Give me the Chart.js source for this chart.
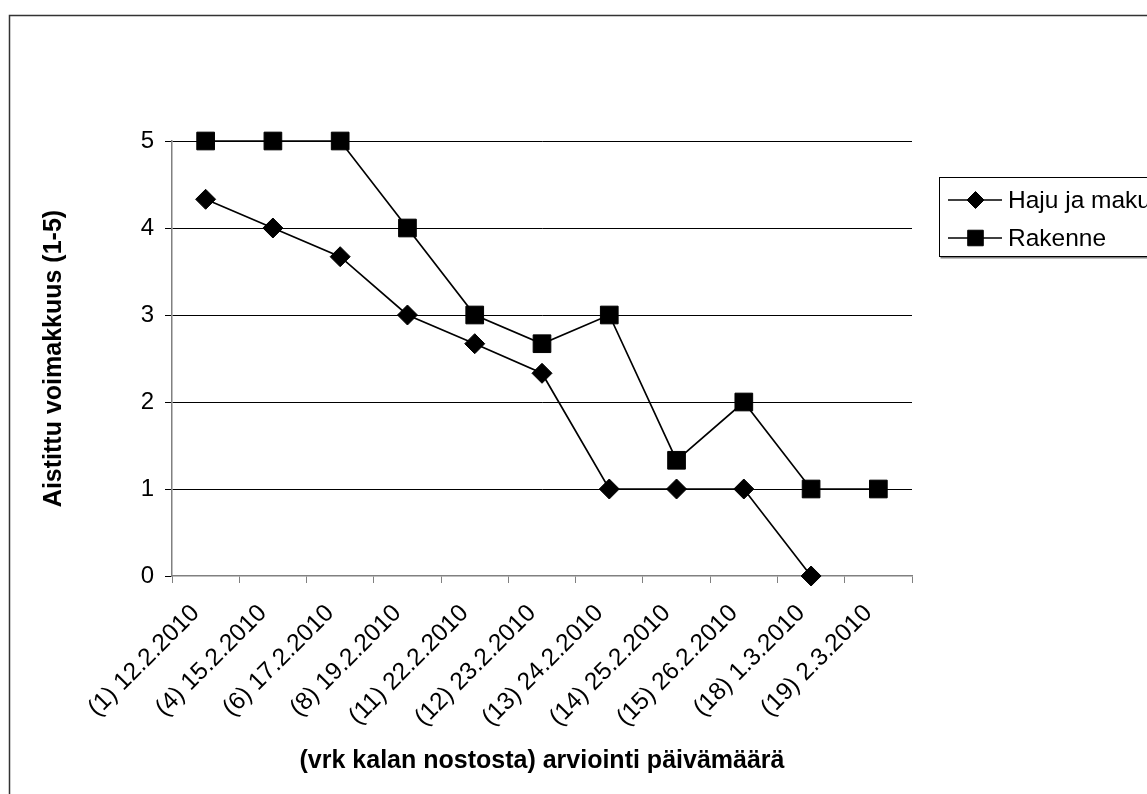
<!DOCTYPE html>
<html>
<head>
<meta charset="utf-8">
<script src="https://cdn.jsdelivr.net/npm/chart.js@4.4.1/dist/chart.umd.min.js"></script>
<style>
  html, body { margin: 0; padding: 0; background: #fff; }
  #wrap { width: 1147px; height: 794px; }
</style>
</head>
<body>
<div id="wrap"><canvas id="c" width="1147" height="794"></canvas></div>
<script>
// Arviointipäivät (vrk kalan nostosta)
const categories = [
  '(1) 12.2.2010', '(4) 15.2.2010', '(6) 17.2.2010', '(8) 19.2.2010',
  '(11) 22.2.2010', '(12) 23.2.2010', '(13) 24.2.2010', '(14) 25.2.2010',
  '(15) 26.2.2010', '(18) 1.3.2010', '(19) 2.3.2010'
];
// Aistittu voimakkuus (1-5)
const hajuJaMaku = [4.33, 4, 3.67, 3, 2.67, 2.33, 1, 1, 1, 0, null];
const rakenne    = [5, 5, 5, 4, 3, 2.67, 3, 1.33, 2, 1, 1];
const yTicks = [0, 1, 2, 3, 4, 5];

const FONT = '"Liberation Sans", Arial, sans-serif';

// Outer frame of the chart object
const framePlugin = {
  id: 'frame',
  beforeDraw(chart) {
    const ctx = chart.ctx;
    ctx.save();
    ctx.strokeStyle = '#333';
    ctx.lineWidth = 1.5;
    ctx.beginPath();
    ctx.moveTo(9.5, 800);
    ctx.lineTo(9.5, 15.5);
    ctx.lineTo(1160, 15.5);
    ctx.stroke();
    ctx.restore();
  }
};

// Legend box: line segment with marker, then series name
const legendPlugin = {
  id: 'boxLegend',
  afterDraw(chart) {
    const ctx = chart.ctx;
    const x0 = 939.5, y0 = 177.5, h = 79;
    ctx.save();
    // shadow
    ctx.fillStyle = '#808080';
    ctx.fillRect(x0 + 1, y0 + h, 400, 2);
    ctx.fillStyle = '#fff';
    ctx.fillRect(x0, y0, 400, h);
    ctx.strokeStyle = '#000';
    ctx.lineWidth = 1;
    ctx.strokeRect(x0, y0, 400, h);
    const rows = [200, 238];
    chart.data.datasets.forEach((ds, i) => {
      const y = rows[i];
      ctx.strokeStyle = '#000';
      ctx.fillStyle = '#000';
      ctx.lineWidth = 1.5;
      ctx.beginPath();
      ctx.moveTo(948, y);
      ctx.lineTo(1002, y);
      ctx.stroke();
      ctx.lineWidth = 1;
      Chart.helpers.drawPoint(ctx, {
        pointStyle: ds.pointStyle,
        radius: ds.pointStyle === 'rect' ? 11 : 8.5,
        borderWidth: 1
      }, 975.5, y);
      ctx.fillStyle = '#000';
      ctx.font = '24.5px ' + FONT;
      ctx.textBaseline = 'middle';
      ctx.textAlign = 'left';
      ctx.fillText(ds.label, 1008, y + 1);
    });
    ctx.restore();
  }
};

new Chart(document.getElementById('c'), {
  type: 'line',
  data: {
    labels: categories,
    datasets: [
      {
        label: 'Haju ja maku',
        data: hajuJaMaku,
        borderColor: '#000',
        backgroundColor: '#000',
        borderWidth: 1.7,
        pointStyle: 'rectRot',
        pointRadius: 10,
        pointBorderWidth: 1,
        pointBackgroundColor: '#000',
        pointBorderColor: '#000',
        tension: 0,
        spanGaps: false,
        clip: false
      },
      {
        label: 'Rakenne',
        data: rakenne,
        borderColor: '#000',
        backgroundColor: '#000',
        borderWidth: 1.7,
        pointStyle: 'rect',
        pointRadius: 12.5,
        pointBorderWidth: 1,
        pointBackgroundColor: '#000',
        pointBorderColor: '#000',
        tension: 0,
        clip: false
      }
    ]
  },
  options: {
    responsive: false,
    animation: false,
    devicePixelRatio: 1,
    layout: { padding: { top: 141, right: 235, left: 0, bottom: 0 } },
    plugins: {
      legend: { display: false },
      tooltip: { enabled: false }
    },
    scales: {
      x: {
        offset: true,
        afterFit(scale) { scale.height = 218; },
        grid: {
          offset: true,
          drawOnChartArea: false,
          drawTicks: true,
          tickLength: 7,
          tickColor: '#808080',
          tickWidth: 1
        },
        border: { color: '#808080', width: 1.5 },
        ticks: {
          autoSkip: false,
          maxRotation: 45,
          minRotation: 45,
          padding: 16,
          labelOffset: -10,
          color: '#000',
          font: { family: FONT, size: 24.5 }
        },
        title: {
          display: true,
          text: '(vrk kalan nostosta) arviointi päivämäärä',
          color: '#000',
          font: { family: FONT, size: 25, weight: 'bold' },
          padding: { top: 0, bottom: 18 }
        }
      },
      y: {
        min: 0,
        max: 5,
        afterFit(scale) { scale.width = 172; },
        afterBuildTicks(scale) { scale.ticks = yTicks.map(v => ({ value: v })); },
        grid: {
          color: ctx => (ctx.tick && ctx.tick.value === 0 ? 'rgba(0,0,0,0)' : '#000'),
          lineWidth: 1,
          tickLength: 7,
          tickColor: '#000'
        },
        border: { color: '#808080', width: 1.5 },
        ticks: {
          stepSize: 1,
          padding: 11,
          color: '#000',
          font: { family: FONT, size: 24 }
        },
        title: {
          display: true,
          text: 'Aistittu voimakkuus (1-5)',
          color: '#000',
          font: { family: FONT, size: 25, weight: 'bold' },
          padding: { top: 39, bottom: 0 }
        }
      }
    }
  },
  plugins: [framePlugin, legendPlugin]
});
</script>
</body>
</html>
